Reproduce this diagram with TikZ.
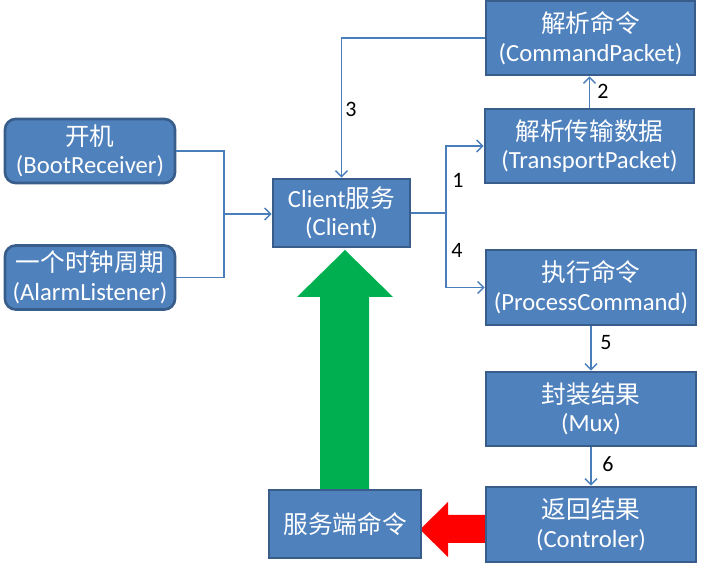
\documentclass[tikz,border=0pt]{standalone}
\usepackage{fontspec}
\setmainfont{Carlito}
\newfontfamily\cjk{Noto Sans CJK SC}
\usetikzlibrary{arrows.meta}
\definecolor{boxfill}{HTML}{4F81BD}
\definecolor{boxborder}{HTML}{385D8A}
\definecolor{connc}{HTML}{4A7EBB}
\definecolor{biggreen}{HTML}{00B050}
\definecolor{bigred}{HTML}{FF0000}
\tikzset{
  box/.style={draw=boxborder, line width=2pt, fill=boxfill, text=white, align=center,
    font=\fontsize{18.5}{21.5}\selectfont, inner sep=0pt},
  rbox/.style={box, rounded corners=8pt},
  conn/.style={draw=connc, line width=1.1pt},
  arr/.style={conn, -{Straight Barb[length=4.5pt,width=9pt,line width=1.1pt]}},
  num/.style={font=\fontsize{16.5}{19}\selectfont, text=black, inner sep=0pt}
}
\begin{document}
\begin{tikzpicture}[x=0.75pt,y=-0.75pt]
\useasboundingbox (0,0) rectangle (701,566);
% big arrows
\fill[biggreen] (320,490) -- (320,297) -- (297,297) -- (345,250) -- (393,297) -- (369,297) -- (369,490) -- cycle;
\fill[bigred] (487,515) -- (448,515) -- (448,502) -- (420,529.5) -- (448,557) -- (448,543) -- (487,543) -- cycle;
% boxes
\node[rbox, minimum width=127.5pt, minimum height=48pt] (boot) at (90,151) {{\cjk 开机}\\(BootReceiver)};
\node[rbox, minimum width=127.5pt, minimum height=48pt] (alarm) at (90,277.5) {{\cjk 一个时钟周期}\\(AlarmListener)};
\node[box, minimum width=102.75pt, minimum height=51pt] (client) at (341.5,213) {Client{\cjk 服务}\\(Client)};
\node[box, minimum width=156.75pt, minimum height=55.5pt] (cp) at (590.5,38) {{\cjk 解析命令}\\(CommandPacket)};
\node[box, minimum width=156.75pt, minimum height=55.5pt] (tp) at (589.5,146) {{\cjk 解析传输数据}\\(TransportPacket)};
\node[box, minimum width=157.5pt, minimum height=56.25pt] (pc) at (591,287.5) {{\cjk 执行命令}\\(ProcessCommand)};
\node[box, minimum width=157.5pt, minimum height=55.5pt] (mux) at (591,409) {{\cjk 封装结果}\\(Mux)};
\node[box, minimum width=157.5pt, minimum height=56.25pt] (ctl) at (591,524.5) {{\cjk 返回结果}\\(Controler)};
\node[box, minimum width=114pt, minimum height=51pt] (srv) at (345,524) {{\cjk 服务端命令}};
% connectors
\coordinate (j1) at (224,214);
\coordinate (j2) at (446,213);
\draw[conn] (boot.east) -| (j1);
\draw[conn] (alarm.east) -| (j1);
\draw[arr] (j1) -- (client.west |- j1);
\draw[conn] (client.east |- j2) -- (j2);
\draw[arr] (j2) |- (tp.west);
\draw[arr] (j2) |- (pc.west);
\draw[arr] (cp.west) -| (client.north);
\draw[arr] (tp.north) -- (tp.north |- cp.south);
\draw[arr] (pc.south) -- (mux.north);
\draw[arr] (mux.south) -- (ctl.north);
% labels
\node[num] (n1) at (458,180) {1};
\node[num] (n2) at (603,91) {2};
\node[num] (n3) at (351,109) {3};
\node[num] (n4) at (457,250) {4};
\node[num] (n5) at (606,343) {5};
\node[num] (n6) at (608,464) {6};
\end{tikzpicture}
\end{document}
